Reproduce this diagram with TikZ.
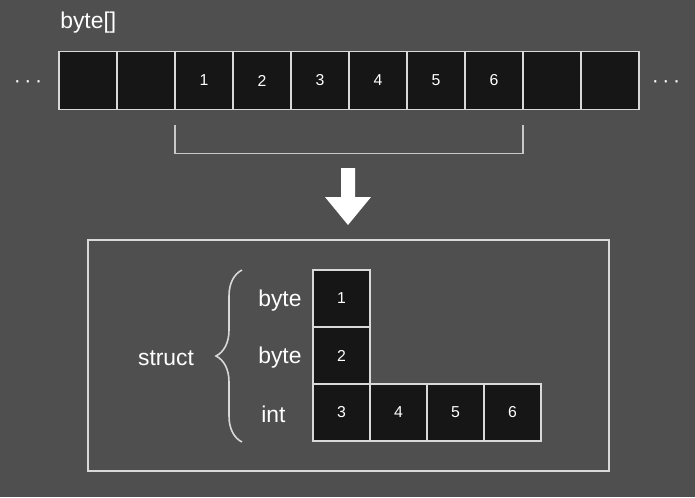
\documentclass[tikz,border=0pt]{standalone}
\usepackage{fontspec}
\setmainfont{Liberation Sans}
\usepackage{tikz}
\usetikzlibrary{positioning,decorations.pathreplacing}
\definecolor{bggray}{RGB}{79,79,79}
\definecolor{cellblack}{RGB}{22,22,22}
\definecolor{linegray}{RGB}{217,217,217}
\definecolor{bracketgray}{RGB}{200,200,200}

\begin{document}
\begin{tikzpicture}[x=0.02cm, y=-0.02cm, cell/.style={rectangle, draw=linegray, fill=cellblack, line width=1.1pt, outer sep=0pt, inner sep=0pt, minimum width=1.16cm, minimum height=1.16cm, text=white, font=\fontsize{9}{10}\selectfont}, smallcell/.style={cell, minimum width=1.14cm, minimum height=1.14cm}, word/.style={text=white, inner sep=0pt, font=\fontsize{13}{15}\selectfont}]

\fill[bggray] (0,0) rectangle (695,497);

% BYTE ARRAY

\node [word, anchor=west] (bytetitle) at (60,23) {byte[]};

\node [cell] (cell1) at (88,80.5) {};
\node [cell, right=0pt of cell1] (cell2) {};
\node [cell, right=0pt of cell2] (cell3) {1};
\node [cell, right=0pt of cell3] (cell4) {2};
\node [cell, right=0pt of cell4] (cell5) {3};
\node [cell, right=0pt of cell5] (cell6) {4};
\node [cell, right=0pt of cell6] (cell7) {5};
\node [cell, right=0pt of cell7] (cell8) {6};
\node [cell, right=0pt of cell8] (cell9) {};
\node [cell, right=0pt of cell9] (cell10) {};

\node [word, font=\fontsize{12}{14}\selectfont] (leftdots) at (28,84) {·\,·\,·};
\node [word, font=\fontsize{12}{14}\selectfont] (rightdots) at (666,84) {·\,·\,·};

\draw [bracketgray, line width=1.1pt] ([yshift=-0.32cm]cell3.south west) |- ([yshift=-0.88cm]cell8.south east) -- ([yshift=-0.32cm]cell8.south east);

% ARROW

\fill [white] (341,168) -- (355,168) -- (355,197) -- (371,197) -- (348,225) -- (325,197) -- (341,197) -- cycle;

% STRUCT

\draw [linegray, line width=0.9pt] (88,240) rectangle (609,471);

\node [smallcell] (field1) at (341.5,298.5) {1};
\node [smallcell, below=0pt of field1] (field2) {2};
\node [smallcell, below=0pt of field2] (field3) {3};
\node [smallcell, right=0pt of field3] (field4) {4};
\node [smallcell, right=0pt of field4] (field5) {5};
\node [smallcell, right=0pt of field5] (field6) {6};

\node [word, anchor=west] (bytelabel1) at (258,301) {byte};
\node [word, anchor=west] (bytelabel2) at (258,358) {byte};
\node [word, anchor=west] (intlabel) at (261,414) {int};

\draw [linegray, line width=0.9pt, decorate, decoration={brace, amplitude=0.52cm, aspect=0.5}] (242,442) -- (242,270);
\node [word] (structlabel) at (166,358) {struct};

\end{tikzpicture}
\end{document}
